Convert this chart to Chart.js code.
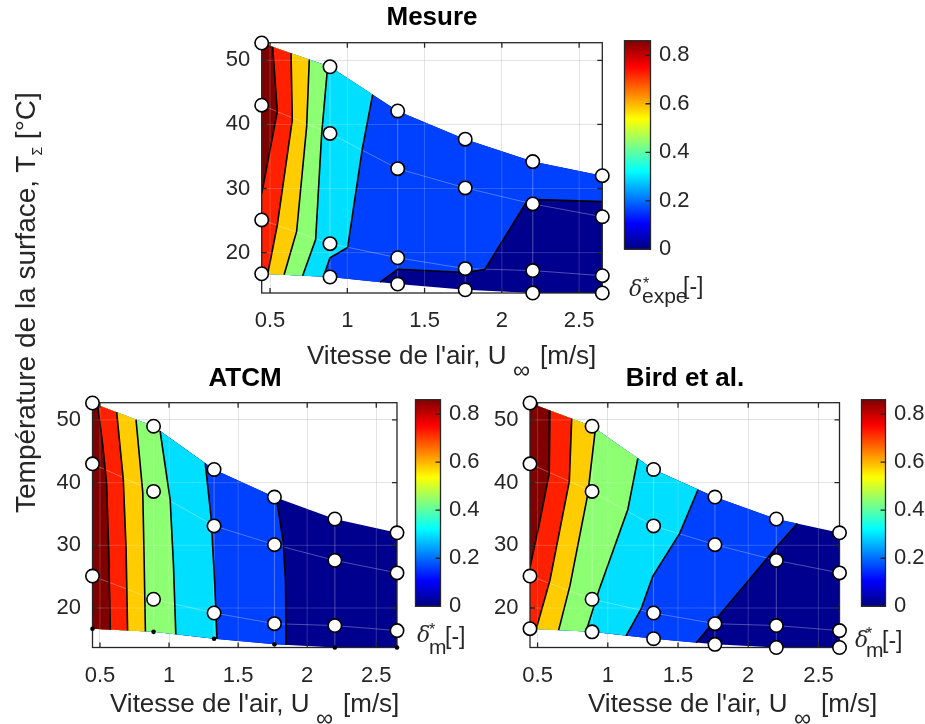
<!DOCTYPE html>
<html>
<head>
<meta charset="utf-8">
<script src="https://cdn.jsdelivr.net/npm/chart.js@4.4.1/dist/chart.umd.min.js"></script>
<style>
  body { margin: 0; background: #fff; }
  #page { position: relative; width: 925px; height: 724px; overflow: hidden; font-family: "Liberation Sans", Arial, sans-serif; color: #262626; }
  #page canvas { position: absolute; }
  .txt { position: absolute; white-space: nowrap; line-height: 1; }
  .ttl { font-weight: bold; color: #000; font-size: 26px; text-align: center; width: 200px; }
  .lab { font-size: 26px; }
  .inf { font-size: 24px; }
  .dl { font-size: 22px; font-style: italic; font-family: "DejaVu Serif", serif; }
  .st { font-size: 16px; }
  .sb { font-size: 21px; }
  .br { font-size: 23px; }
</style>
</head>
<body>
<div id="page">
  <canvas id="mesure"></canvas>
  <canvas id="mesureBar"></canvas>
  <canvas id="atcm"></canvas>
  <canvas id="atcmBar"></canvas>
  <canvas id="bird"></canvas>
  <canvas id="birdBar"></canvas>

  <div class="txt ttl" style="left:332px;top:3px">Mesure</div>
  <div class="txt ttl" style="left:145px;top:364px">ATCM</div>
  <div class="txt ttl" style="left:585px;top:364px">Bird et al.</div>

  <!-- x labels -->
  <div class="txt lab" style="left:307px;top:341.6px">Vitesse de l'air, U</div>
  <div class="txt inf" style="left:513px;top:357.6px">∞</div>
  <div class="txt lab" style="left:540px;top:341.6px">[m/s]</div>

  <div class="txt lab" style="left:110px;top:689.7px">Vitesse de l'air, U</div>
  <div class="txt inf" style="left:316px;top:705.7px">∞</div>
  <div class="txt lab" style="left:343px;top:689.7px">[m/s]</div>

  <div class="txt lab" style="left:588px;top:689.7px">Vitesse de l'air, U</div>
  <div class="txt inf" style="left:794px;top:705.7px">∞</div>
  <div class="txt lab" style="left:821px;top:689.7px">[m/s]</div>

  <!-- y label -->
  <div class="txt" style="left:0;top:0;font-size:28px;transform-origin:0 0;transform:translate(12px,513px) rotate(-90deg)">Température de la surface, T<span style="font-size:14px;position:relative;top:7px">Σ</span> [°C]</div>

  <!-- colorbar labels -->
  <div class="txt dl" style="left:629px;top:278.4px">δ</div>
  <div class="txt st" style="left:643px;top:275.5px">*</div>
  <div class="txt sb" style="left:642px;top:285.2px">expe</div>
  <div class="txt br" style="left:683px;top:274.5px">[-]</div>

  <div class="txt dl" style="left:417px;top:624.4px">δ</div>
  <div class="txt st" style="left:429px;top:621.5px">*</div>
  <div class="txt sb" style="left:429px;top:636.2px">m</div>
  <div class="txt br" style="left:445px;top:624.5px">[-]</div>

  <div class="txt dl" style="left:855px;top:629.4px">δ</div>
  <div class="txt st" style="left:866px;top:625.5px">*</div>
  <div class="txt sb" style="left:866px;top:639.2px">m</div>
  <div class="txt br" style="left:882px;top:628.5px">[-]</div>
</div>
<script>
Chart.defaults.font.family = '"Liberation Sans", Arial, sans-serif';
Chart.defaults.color = '#262626';

// measurement grid: air speed columns, four surface temperature rows
const speeds = [0.446, 0.888, 1.326, 1.763, 2.2, 2.65];
const tempRow1 = [52.7, 49.0, 42.1, 37.7, 34.2, 32.0];
const tempRow2 = [43.0, 38.6, 33.1, 30.1, 27.6, 25.6];
const tempRow3 = [25.1, 21.4, 19.2, 17.5, 17.2, 16.4];
const tempRow4 = [16.7, 16.2, 15.1, 14.2, 13.7, 13.7];

const xTicks = [0.5, 1, 1.5, 2, 2.5];
const yTicks = [20, 30, 40, 50];
const barTicks = [0, 0.2, 0.4, 0.6, 0.8];
const xMin = 0.446, xMax = 2.65, yMin = 13.7, yMax = 52.75, barMax = 0.86;

// contourf band colours, lowest level first
const bandColors = ['#00008F', '#0040FF', '#00DFFF', '#8CFF72', '#FFCC00', '#FF2000', '#800000'];
const jetStops = [[0, '#00007F'], [0.125, '#0000FF'], [0.375, '#00FFFF'], [0.625, '#FFFF00'], [0.875, '#FF0000'], [1, '#7F0000']];

// iso-lines, lowest level first, each drawn from the top (or right) edge down to the bottom edge
const mesureContours = [
  [[2.65, 27.95], [2.17, 28.3], [1.891, 17.4], [1.772, 16.9], [1.326, 17.4], [1.212, 15.39]],
  [[1.164, 44.65], [1.097, 36.2], [1.002, 20.8], [0.888, 19.2], [0.845, 16.25]],
  [[0.873, 49.13], [0.834, 38.5], [0.795, 22.05], [0.711, 16.4]],
  [[0.754, 50.12], [0.737, 39.7], [0.672, 23.3], [0.591, 16.54]],
  [[0.636, 51.11], [0.644, 40.7], [0.547, 24.3], [0.485, 16.66]],
  [[0.517, 52.1], [0.547, 42.0], [0.446, 29.2]]
];
const atcmContours = [
  [[1.777, 37.59], [1.826, 30.6], [1.843, 24.3], [1.847, 14.1]],
  [[1.262, 43.11], [1.303, 34.7], [1.33, 24.3], [1.347, 15.06]],
  [[0.935, 48.26], [1.008, 37.3], [1.032, 26.9], [1.049, 15.8]],
  [[0.761, 50.06], [0.81, 38.4], [0.819, 28.5], [0.829, 16.27]],
  [[0.621, 51.24], [0.669, 40.5], [0.689, 29.5], [0.70, 16.41]],
  [[0.483, 52.39], [0.519, 46.2], [0.548, 39.95], [0.563, 29.5], [0.575, 16.55]]
];
const birdContours = [
  [[2.35, 33.47], [2.214, 30.05], [1.63, 14.47]],
  [[1.643, 38.91], [1.512, 31.9], [1.321, 25.1], [1.238, 19.9], [1.131, 15.6]],
  [[1.214, 43.87], [1.143, 35.75], [0.94, 23.05], [0.845, 16.25]],
  [[0.912, 48.62], [0.857, 38.1], [0.731, 23.6], [0.65, 16.47]],
  [[0.743, 50.21], [0.726, 40.2], [0.588, 24.4], [0.49, 16.65]],
  [[0.588, 51.51], [0.583, 41.45], [0.512, 33.4], [0.446, 26.5]]
];

const pts = (xs, ys) => xs.map((x, i) => ({x, y: ys[i]}));
const topEdge = pts(speeds, tempRow1);
const bottomEdge = pts(speeds, tempRow4);
const hull = [...topEdge, ...bottomEdge.slice().reverse()];

// region on the high side (left) of an iso-line, closed along the domain border
function leftOf(line) {
  const first = line[0], last = line[line.length - 1];
  const top = topEdge.filter(p => p.x < first[0] || (p.x === first[0] && p.y > first[1]));
  const bottom = bottomEdge.filter(p => p.x < last[0]).reverse();
  return [...top, ...line.map(([x, y]) => ({x, y})), ...bottom];
}

const meshLines = [pts(speeds, tempRow2), pts(speeds, tempRow3)];
for (let i = 1; i < speeds.length - 1; i++) {
  meshLines.push([{x: speeds[i], y: tempRow4[i]}, {x: speeds[i], y: tempRow1[i]}]);
}

const fixedTicks = values => scale => { scale.ticks = values.map(value => ({value})); };
const gridColor = 'rgba(38,38,38,0.15)';

function drawFrame(chart, opts) {
  const {ctx, chartArea: a, scales: {x, y}} = chart;
  ctx.save();
  if (opts.overlayGrid) {
    ctx.strokeStyle = 'rgba(255,255,255,0.18)';
    ctx.lineWidth = 1;
    ctx.beginPath();
    x.ticks.forEach(t => { const px = x.getPixelForValue(t.value); ctx.moveTo(px, a.top); ctx.lineTo(px, a.bottom); });
    y.ticks.forEach(t => { const py = y.getPixelForValue(t.value); ctx.moveTo(a.left, py); ctx.lineTo(a.right, py); });
    ctx.stroke();
  }
  ctx.strokeStyle = '#262626';
  ctx.lineWidth = 1.3;
  ctx.strokeRect(a.left, a.top, a.width, a.height);
  const len = 5;
  ctx.beginPath();
  if (opts.xTicks) {
    x.ticks.forEach(t => {
      const px = x.getPixelForValue(t.value);
      ctx.moveTo(px, a.bottom); ctx.lineTo(px, a.bottom - len);
      ctx.moveTo(px, a.top); ctx.lineTo(px, a.top + len);
    });
  }
  y.ticks.forEach(t => {
    const py = y.getPixelForValue(t.value);
    if (opts.leftTicks) { ctx.moveTo(a.left, py); ctx.lineTo(a.left + len, py); }
    ctx.moveTo(a.right, py); ctx.lineTo(a.right - len, py);
  });
  ctx.stroke();
  ctx.restore();
}

const framePlugin = {
  id: 'frame',
  beforeDatasetDraw(chart, args, opts) {
    if (opts.before && chart.data.datasets[args.index].label === opts.before) drawFrame(chart, opts);
  },
  afterDatasetsDraw(chart, args, opts) {
    if (!opts.before) drawFrame(chart, opts);
  }
};

const Y_W = 70, X_H = 45, PAD = 20;

function makePlot(id, box, contours, dotBottom) {
  const canvas = document.getElementById(id);
  const left = Math.floor(box.l - Y_W), top = Math.floor(box.t - PAD);
  const w = Math.round(box.r - left + PAD), h = Math.round(box.b - top + X_H + 5);
  canvas.width = w; canvas.height = h;
  canvas.style.left = left + 'px'; canvas.style.top = top + 'px';
  const padding = {
    left: box.l - Y_W - left,
    top: box.t - top,
    right: w - (box.r - left),
    bottom: h - (box.b - top) - X_H
  };

  const poly = (data, color, order) => ({
    label: 'band', data, fill: 'shape', backgroundColor: color,
    borderColor: 'rgba(0,0,0,0)', borderWidth: 0, pointRadius: 0, order
  });
  const datasets = [poly(hull, bandColors[0], 30)];
  contours.forEach((line, k) => datasets.push(poly(leftOf(line), bandColors[k + 1], 29 - k)));
  meshLines.forEach(m => datasets.push({
    label: 'mesh', data: m, borderColor: 'rgba(255,255,255,0.3)', borderWidth: 1,
    pointRadius: 0, fill: false, order: 15
  }));
  contours.forEach(line => datasets.push({
    label: 'contour', data: line.map(([x, y]) => ({x, y})), borderColor: '#000',
    borderWidth: 1.6, pointRadius: 0, fill: false, order: 10
  }));
  const rows = dotBottom ? [tempRow1, tempRow2, tempRow3] : [tempRow1, tempRow2, tempRow3, tempRow4];
  if (dotBottom) {
    datasets.push({
      label: 'dots', data: pts(speeds, tempRow4), showLine: false, pointRadius: 2.3,
      pointBackgroundColor: '#000', pointBorderColor: '#000', pointBorderWidth: 0, clip: false, order: 2
    });
  }
  datasets.push({
    label: 'points', data: rows.flatMap(r => pts(speeds, r)), showLine: false, pointRadius: 6.7,
    pointBackgroundColor: '#fff', pointBorderColor: '#000', pointBorderWidth: 1.6, clip: false, order: 1
  });

  new Chart(canvas, {
    type: 'line',
    data: {datasets},
    options: {
      responsive: false, animation: false, events: [],
      layout: {padding},
      plugins: {
        legend: {display: false}, tooltip: {enabled: false},
        frame: {before: dotBottom ? 'dots' : 'points', overlayGrid: true, xTicks: true, leftTicks: true}
      },
      scales: {
        x: {
          type: 'linear', min: xMin, max: xMax,
          afterBuildTicks: fixedTicks(xTicks), afterFit: s => { s.height = X_H; },
          grid: {color: gridColor, drawTicks: false}, border: {display: false},
          ticks: {font: {size: 22}, padding: 15, maxRotation: 0, callback: v => String(v)}
        },
        y: {
          type: 'linear', min: yMin, max: yMax,
          afterBuildTicks: fixedTicks(yTicks), afterFit: s => { s.width = Y_W; },
          grid: {color: gridColor, drawTicks: false}, border: {display: false},
          ticks: {font: {size: 22}, padding: 11.5, callback: v => String(v)}
        }
      }
    },
    plugins: [framePlugin]
  });
}

function jetFill(context) {
  const {ctx, chartArea} = context.chart;
  if (!chartArea) return 'rgba(0,0,0,0)';
  const g = ctx.createLinearGradient(0, chartArea.bottom, 0, chartArea.top);
  jetStops.forEach(([t, c]) => g.addColorStop(t, c));
  return g;
}

function makeBar(id, box) {
  const canvas = document.getElementById(id);
  const left = Math.floor(box.l - 5), top = Math.floor(box.t - PAD);
  const w = Math.round(box.r - left + 50), h = Math.round(box.b - top + PAD);
  canvas.width = w; canvas.height = h;
  canvas.style.left = left + 'px'; canvas.style.top = top + 'px';
  const axisW = w - (box.r - left);
  new Chart(canvas, {
    type: 'bar',
    data: {
      labels: ['δ'],
      datasets: [{data: [[0, barMax]], backgroundColor: jetFill, borderWidth: 0, barPercentage: 1, categoryPercentage: 1}]
    },
    options: {
      responsive: false, animation: false, events: [],
      layout: {padding: {left: box.l - left, top: box.t - top, right: 0, bottom: h - (box.b - top)}},
      plugins: {legend: {display: false}, tooltip: {enabled: false}, frame: {xTicks: false, leftTicks: false}},
      scales: {
        x: {display: false},
        y: {
          position: 'right', min: 0, max: barMax,
          afterBuildTicks: fixedTicks(barTicks), afterFit: s => { s.width = axisW; },
          grid: {display: false, drawTicks: false}, border: {display: false},
          ticks: {font: {size: 22}, padding: 8.5, callback: v => String(v)}
        }
      }
    },
    plugins: [framePlugin]
  });
}

makePlot('mesure', {l: 261.7, t: 38.5, r: 602.3, b: 293}, mesureContours, false);
makeBar('mesureBar', {l: 624.5, t: 39.5, r: 650.5, b: 250.7});
makePlot('atcm', {l: 92.5, t: 398.5, r: 397, b: 647.5}, atcmContours, true);
makeBar('atcmBar', {l: 415.5, t: 398.5, r: 440.5, b: 608.3});
makePlot('bird', {l: 530, t: 398.5, r: 839.5, b: 647.5}, birdContours, false);
makeBar('birdBar', {l: 861.5, t: 398.5, r: 885.5, b: 608.3});
</script>
</body>
</html>
